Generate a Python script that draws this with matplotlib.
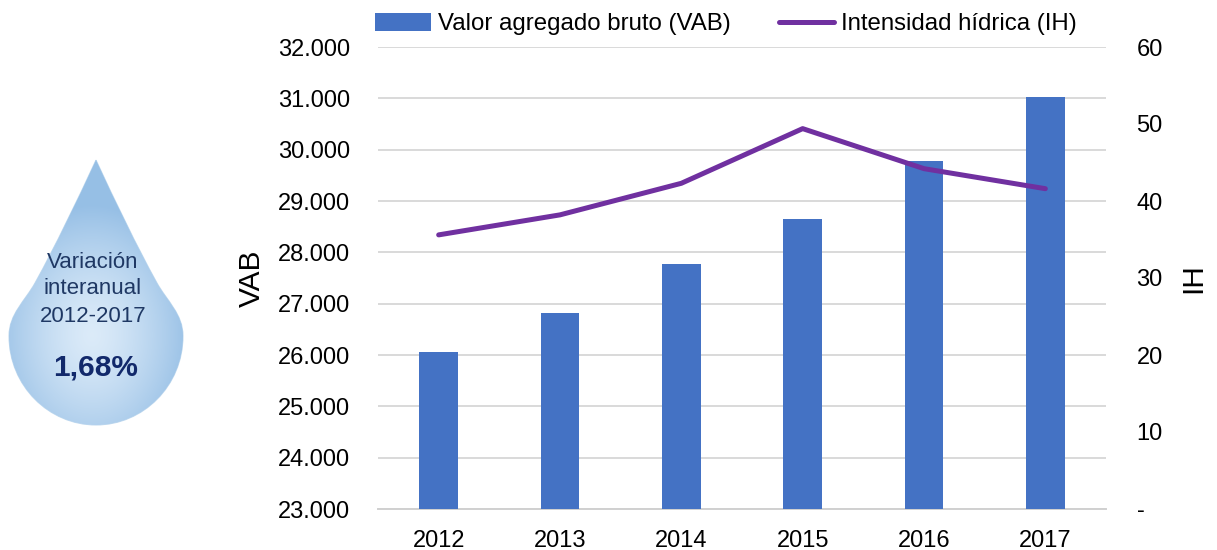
import numpy as np
import matplotlib
matplotlib.use('Agg')
import matplotlib.pyplot as plt
from matplotlib.path import Path
from matplotlib.patches import PathPatch
from matplotlib.ticker import FuncFormatter

plt.rcParams['font.family'] = ['Liberation Sans', 'DejaVu Sans']

anios = ['2012', '2013', '2014', '2015', '2016', '2017']
vab = [26060, 26820, 27775, 28650, 29780, 31025]
ih = [35.6, 38.2, 42.3, 49.4, 44.2, 41.6]

W, H = 1217, 550
fig = plt.figure(figsize=(W / 100, H / 100), dpi=100)

# ejes principales, en pixeles de la imagen
ax = fig.add_axes([378 / W, 1 - 509 / H, (1106 - 378) / W, (509 - 47) / H])
x = np.arange(len(anios))
barras = ax.bar(x, vab, width=0.32, color='#4472C4', zorder=3, label='Valor agregado bruto (VAB)')
ax.set_xlim(-0.5, 5.5)
ax.set_ylim(23000, 32000)
ax.set_yticks(np.arange(23000, 32001, 1000))
ax.yaxis.set_major_formatter(FuncFormatter(lambda v, p: f'{int(v):,}'.replace(',', '.')))
ax.set_xticks(x)
ax.set_xticklabels(anios)
ax.grid(axis='y', color='#D9D9D9', lw=1.4, zorder=0)
ax.tick_params(length=0, labelsize=17, colors='black')
ax.tick_params(axis='x', pad=15)
ax.tick_params(axis='y', pad=20)
for s in ['top', 'left', 'right']:
    ax.spines[s].set_visible(False)
ax.spines['bottom'].set_color('#D0D0D0')
ax.spines['bottom'].set_linewidth(1.4)
ax.set_ylabel('VAB', fontsize=21.5, labelpad=9)

# eje secundario
ax2 = ax.twinx()
linea, = ax2.plot(x, ih, color='#7030A0', lw=3.6, solid_capstyle='round', zorder=4, label='Intensidad hídrica (IH)')
ax2.set_ylim(0, 60)
ax2.set_yticks(np.arange(0, 61, 10))
ax2.yaxis.set_major_formatter(FuncFormatter(lambda v, p: '-' if v == 0 else f'{int(v)}'))
ax2.tick_params(length=0, labelsize=17, pad=22)
for s in ax2.spines.values():
    s.set_visible(False)
ax2.set_ylabel('IH', fontsize=21.5, rotation=90, labelpad=12)

fig.legend(handles=[barras, linea], loc='center', bbox_to_anchor=(726 / W, 1 - 24 / H), ncol=2,
           frameon=False, fontsize=17.3, handlelength=2.3, handleheight=0.75, handletextpad=0.3,
           columnspacing=2.0, borderpad=0, borderaxespad=0)

# gota de agua con degradado
gota = fig.add_axes([0, 0, 1, 1], zorder=5)
gota.patch.set_alpha(0)
verts = [(96, 160),
         (116, 203), (136, 245), (157, 283),
         (167, 301), (183, 314), (183, 336),
         (183, 386), (143, 425), (96, 425),
         (49, 425), (9, 386), (9, 336),
         (9, 314), (25, 301), (35, 283),
         (56, 245), (76, 203), (96, 160)]
codes = [Path.MOVETO] + [Path.CURVE4] * 18
patch = PathPatch(Path(verts, codes), fc='none', ec='#C4DCF0', lw=0.8)
gota.add_patch(patch)
gx, gy = np.meshgrid(np.linspace(0, 200, 200), np.linspace(150, 435, 285))
r = np.clip(np.hypot((gx - 92) / 100, (gy - 335) / 130), 0, 1)
c0 = np.array([0.86, 0.92, 0.975])
c1 = np.array([0.59, 0.75, 0.90])
img = c0 + (c1 - c0)[None, None, :] * (r ** 1.4)[:, :, None]
im = gota.imshow(img, extent=(0, 200, 435, 150), aspect='auto', zorder=1)
im.set_clip_path(patch)
gota.set_xlim(0, W)
gota.set_ylim(H, 0)
gota.axis('off')
for t, yy in [('Variación', 263), ('interanual', 288), ('2012-2017', 316)]:
    gota.text(93, yy, t, ha='center', va='center', fontsize=16, color='#1F3864', zorder=2)
gota.text(96, 367, '1,68%', ha='center', va='center', fontsize=21.5, fontweight='bold', color='#12296B', zorder=2)

fig.savefig('out.png', dpi=100)
